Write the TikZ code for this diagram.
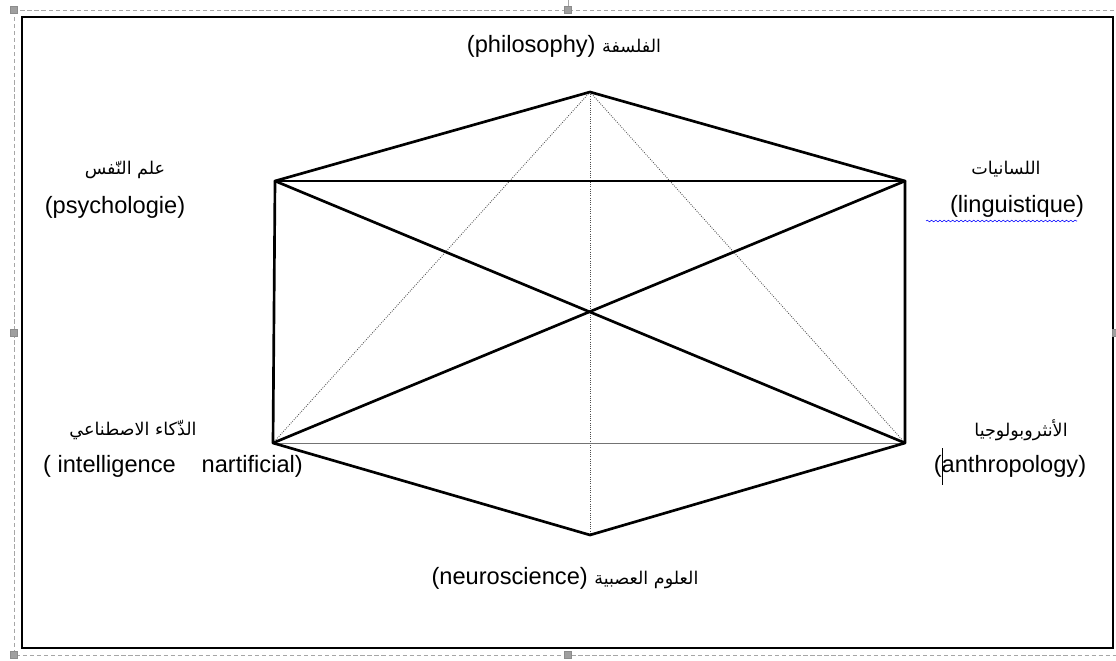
\documentclass[tikz,border=0pt]{standalone}
\usepackage{fontspec}
\setmainfont{Liberation Sans}
\newfontfamily\arabicfont[Script=Arabic]{DejaVu Sans}
\TeXXeTstate=1
\usetikzlibrary{decorations.pathmorphing}
\newcommand\arsize{\fontsize{12.5}{15}\selectfont}
\tikzset{
  bold edge/.style={line width=1.9pt, line join=round, line cap=round},
  faint edge/.style={line width=0.6pt, densely dotted, black!70},
  lbl/.style={font=\fontsize{16.8}{20}\selectfont, inner sep=0pt},
  arlbl/.style={font=\arsize\arabicfont, inner sep=0pt},
  grip/.style={fill=gray!75, draw=gray!90, minimum width=5pt, minimum height=5pt, inner sep=0pt}
}

\begin{document}
\begin{tikzpicture}[x=0.025cm, y=-0.025cm]
  \useasboundingbox (0,0) rectangle (1116,661);
  % text box frame with its selection outline
  \draw[gray!70, densely dashed, line width=0.6pt] (14,10) rectangle (1118,655);
  \draw[line width=0.9pt] (22,17) rectangle (1113,648);
  \draw[gray!70, line width=0.6pt] (568,0) -- (568,10);
  \foreach \gx/\gy in {14/10, 568/10, 14/333, 14/655, 568/655, 1116/333}
    \node[grip] at (\gx,\gy) {};
  % the six corners
  \coordinate (phil) at (590,92);
  \coordinate (psy)  at (275,181);
  \coordinate (ling) at (905,181);
  \coordinate (ai)   at (273,443);
  \coordinate (anth) at (905,443);
  \coordinate (neur) at (590,535);
  % thin links
  \draw[faint edge] (phil) -- (ai);
  \draw[faint edge] (phil) -- (anth);
  \draw[faint edge] (phil) -- (neur);
  \draw[black!55, line width=0.6pt] (ai) -- (anth);
  % heavy links
  \draw[bold edge] (ai) -- (psy) -- (phil) -- (ling) -- (anth) -- (neur) -- cycle;
  \draw[bold edge] (psy) -- (ling);
  \draw[bold edge] (psy) -- (anth);
  \draw[bold edge] (ling) -- (ai);
  % labels
  \node[lbl] (philTxt) at (564,46) {(philosophy) {\arabicfont\arsize\beginR الفلسفة\endR}};
  \node[arlbl] (psyAr) at (125,170) {\beginR علم النّفس\endR};
  \node[lbl] (psyTxt) at (115,207) {(psychologie)};
  \node[arlbl] (lingAr) at (1006,169) {\beginR اللسانيات\endR};
  \node[lbl] (lingTxt) at (1017,206) {(linguistique)};
  \draw[blue, line width=0.4pt, decorate, decoration={snake, amplitude=0.6pt, segment length=3pt}]
    (926,221) -- (1077,221);
  \node[arlbl] (aiAr) at (133,430) {\beginR الذّكاء الاصطناعي\endR};
  \node[lbl] (aiTxt) at (173,466) {( intelligence\hspace{1.1em}nartificial)};
  \node[arlbl] (anthAr) at (1021,430) {\beginR الأنثروبولوجيا\endR};
  \node[lbl] (anthTxt) at (1010,466) {(anthropology)};
  \draw[line width=0.5pt] (942,448) -- (942,485);
  \node[lbl] (neurTxt) at (565,578) {(neuroscience) {\arabicfont\arsize\beginR العلوم العصبية\endR}};
\end{tikzpicture}
\end{document}
